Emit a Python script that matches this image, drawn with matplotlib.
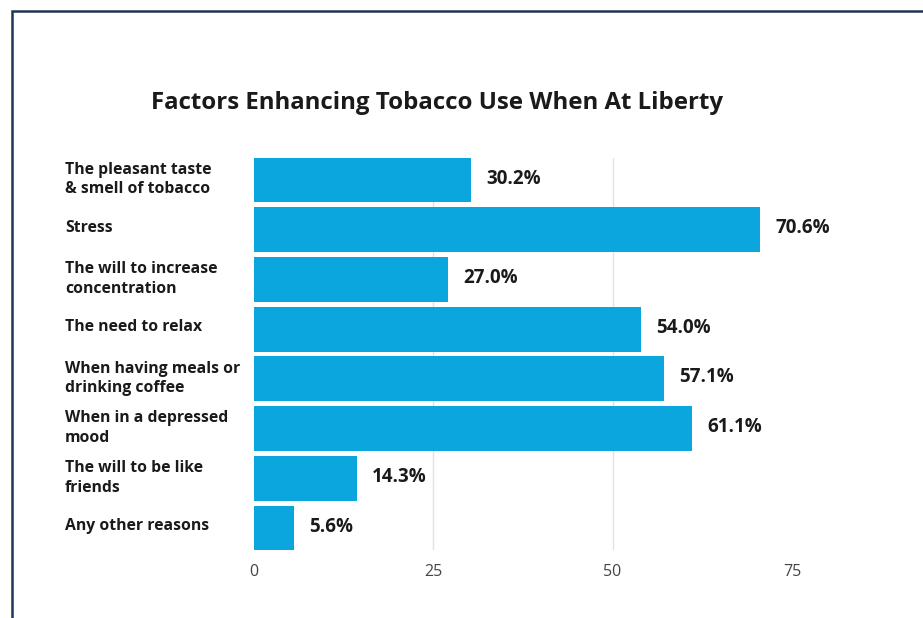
import matplotlib
matplotlib.use("Agg")
import matplotlib.pyplot as plt
from matplotlib.patches import Rectangle
from matplotlib.transforms import offset_copy

plt.rcParams['font.family'] = ['Open Sans', 'DejaVu Sans']

# survey answers, top to bottom
factors = [
    "The pleasant taste\n& smell of tobacco",
    "Stress",
    "The will to increase\nconcentration",
    "The need to relax",
    "When having meals or\ndrinking coffee",
    "When in a depressed\nmood",
    "The will to be like\nfriends",
    "Any other reasons",
]
shares = [30.2, 70.6, 27.0, 54.0, 57.1, 61.1, 14.3, 5.6]
x_ticks = [0, 25, 50, 75]
grid_at = [25, 50]

bar_color = '#0ba6de'
text_color = '#1a1a1a'

fig = plt.figure(figsize=(9.23, 6.18), dpi=100)
fig.patch.set_facecolor('white')

# dark frame around the card (runs off the right and bottom edge)
fig.patches.append(Rectangle((12 / 923, -0.05), 1.2, 1 - 11 / 618 + 0.05,
                             transform=fig.transFigure, fill=False,
                             edgecolor='#1f3556', linewidth=1.8))

ax = fig.add_axes([254 / 923, 1 - 550.4 / 618, 609.6 / 923, 392.8 / 618])
ypos = list(range(len(factors)))
ax.barh(ypos, shares, height=0.9, color=bar_color, zorder=2)
ax.set_xlim(0, 85)
ax.set_ylim(len(factors) - 0.55, -0.45)

for g in grid_at:
    ax.axvline(g, color='#e2e2e2', linewidth=1, zorder=0)

ax.set_xticks(x_ticks)
ax.set_xticklabels([str(t) for t in x_ticks], fontsize=11.5, color='#444444')
ax.tick_params(axis='x', length=0, pad=10)

ax.set_yticks(ypos)
ax.set_yticklabels(factors, fontsize=11.3, fontweight='bold', color=text_color,
                   ha='left', linespacing=1.3)
ax.tick_params(axis='y', length=0, pad=136)
for lab in ax.get_yticklabels():
    lab.set_transform(offset_copy(lab.get_transform(), fig=fig, x=0, y=3, units='points'))

for s in ax.spines.values():
    s.set_visible(False)

for y, v in zip(ypos, shares):
    ax.annotate(f"{v:.1f}%", (v, y), xytext=(11, 1), textcoords='offset points',
                ha='left', va='center', fontsize=13.5, fontweight='bold',
                color=text_color)

fig.text(437 / 923, 1 - 103 / 618, "Factors Enhancing Tobacco Use When At Liberty",
         ha='center', va='center', fontsize=17.3, fontweight='bold', color=text_color)

fig.savefig('out.png', dpi=100, facecolor='white')
